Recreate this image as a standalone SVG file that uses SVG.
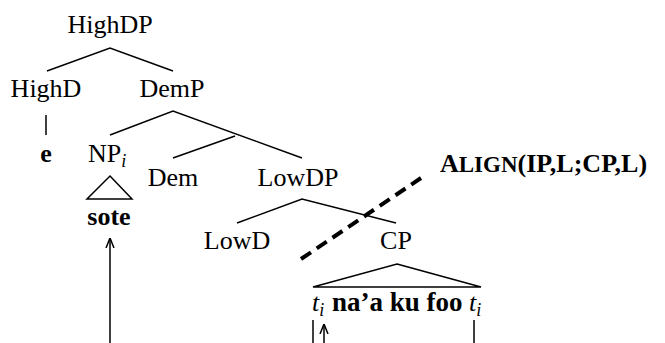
<svg xmlns="http://www.w3.org/2000/svg" width="665" height="343" viewBox="0 0 665 343">
<style>
text{font-family:"Liberation Serif","Times New Roman",serif;font-size:26px;fill:#000}
.b{font-weight:bold}
.it{font-style:italic}
.sub{font-style:italic;font-size:18px}
.ln{stroke:#000;stroke-width:1.5;fill:none}
.dash{stroke:#000;stroke-width:4;stroke-dasharray:12 7;fill:none}
</style>
<defs>
<marker id="arr" viewBox="0 0 10 10" refX="10" refY="5" markerWidth="10" markerHeight="10" markerUnits="userSpaceOnUse" orient="auto">
<path d="M0,1 L10,5 L0,9" fill="none" stroke="#000" stroke-width="1.5"/>
</marker>
</defs>
<rect width="665" height="343" fill="#fff"/>
<g id="connectors">
<path class="ln" d="M47,71 L110,48 L173,71"/>
<path class="ln" d="M46,115 L46,135"/>
<path class="ln" d="M110,135 L173,111 L302,158"/>
<path class="ln" d="M235,136 L173,158"/>
<path class="ln" d="M237,223 L302,199 L396,223"/>
<path class="ln" d="M110,343 L110,238" marker-end="url(#arr)"/>
<path class="ln" d="M313,320 L313,343"/>
<path class="ln" d="M324,343 L324,324" marker-end="url(#arr)"/>
<path class="ln" d="M474,320 L474,343"/>
<path class="dash" d="M301,259 L421,178"/>
</g>
<g id="HighDP"><text x="110" y="33" text-anchor="middle">HighDP</text></g>
<g id="HighD"><text x="46" y="97" text-anchor="middle">HighD</text></g>
<g id="DemP"><text x="172" y="97" text-anchor="middle">DemP</text></g>
<g id="e"><text class="b" x="46" y="162" text-anchor="middle">e</text></g>
<g id="NPi"><text x="88" y="162">NP<tspan class="sub" dy="5">i</tspan></text></g>
<g id="NPtri"><path class="ln" d="M110,176 L132,199 L87,199 Z"/></g>
<g id="sote"><text class="b" x="109" y="225" text-anchor="middle">sote</text></g>
<g id="Dem"><text x="173" y="186" text-anchor="middle">Dem</text></g>
<g id="LowDP"><text x="298" y="186" text-anchor="middle">LowDP</text></g>
<g id="LowD"><text x="237" y="249" text-anchor="middle">LowD</text></g>
<g id="CP"><text x="396" y="249" text-anchor="middle">CP</text></g>
<g id="CPtri"><path class="ln" d="M397,264 L481,287 L313,287 Z"/></g>
<g id="CPstring"><text x="312" y="311"><tspan class="it">t</tspan><tspan class="sub" dy="5">i</tspan><tspan class="b" x="332" dy="-5" font-size="27">na’a ku foo</tspan><tspan class="it" x="469">t</tspan><tspan class="sub" dy="5">i</tspan></text></g>
<g id="align"><text class="b" x="440" y="172" font-size="28">A<tspan font-size="23">LIGN</tspan>(IP,L;CP,L)</text></g>
</svg>
